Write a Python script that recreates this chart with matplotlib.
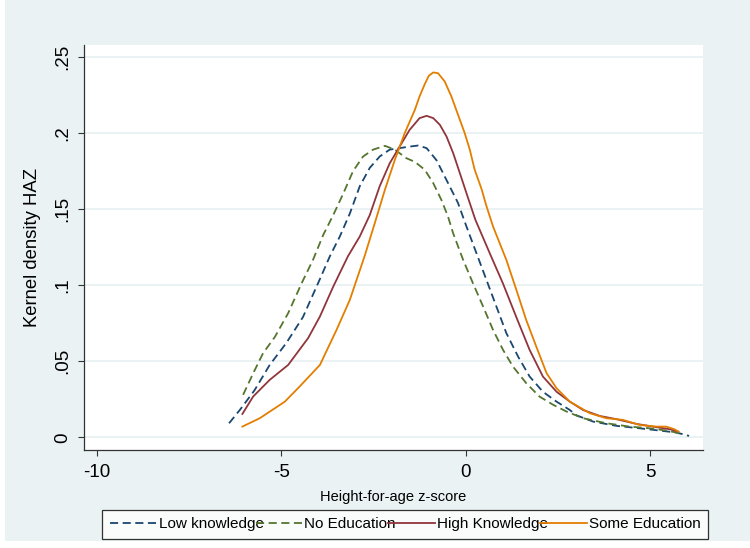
""" BIBLIOTHEQUES """
import numpy as np
import matplotlib.pyplot as plt
from matplotlib.patches import Rectangle

""" DONNEES (lues sur le graphique) """
x_low = [-6.41, -6.12, -5.72, -5.31, -4.86, -4.41, -3.95, -3.68, -3.41, -3.14, -2.87,
         -2.6, -2.33, -2.06, -1.79, -1.52, -1.29, -1.06, -0.79, -0.52, -0.21, 0.02,
         0.29, 0.56, 0.83, 1.1, 1.42, 1.73, 2.09, 2.46, 2.82, 3.0, 3.45, 4.08, 4.71,
         5.25, 5.71, 6.05]
y_low = [0.0093, 0.018, 0.031, 0.0476, 0.062, 0.079, 0.104, 0.119, 0.132, 0.147, 0.165,
         0.177, 0.1845, 0.189, 0.190, 0.191, 0.1917, 0.190, 0.182, 0.169, 0.154, 0.1385,
         0.121, 0.1035, 0.086, 0.0685, 0.053, 0.040, 0.030, 0.0235, 0.018, 0.0145, 0.0104,
         0.0076, 0.006, 0.0045, 0.0032, 0.001]

x_noedu = [-6.03, -5.76, -5.49, -5.17, -4.81, -4.45, -4.13, -3.86, -3.59, -3.32, -3.05,
           -2.78, -2.51, -2.19, -1.92, -1.61, -1.38, -1.11, -0.88, -0.66, -0.48, -0.34,
           -0.07, 0.2, 0.47, 0.74, 1.01, 1.28, 1.64, 2.0, 2.37, 2.73, 3.18, 3.81, 4.44,
           4.98, 5.43, 5.71, 5.87]
y_noedu = [0.028, 0.042, 0.0553, 0.066, 0.0816, 0.101, 0.117, 0.133, 0.146, 0.160, 0.175,
           0.1845, 0.189, 0.1915, 0.189, 0.1834, 0.181, 0.1758, 0.167, 0.156, 0.145, 0.134,
           0.1166, 0.101, 0.086, 0.0706, 0.0575, 0.0465, 0.0356, 0.0268, 0.0214, 0.017,
           0.0126, 0.0093, 0.0071, 0.006, 0.0045, 0.0032, 0.0015]

x_high = [-6.05, -5.76, -5.31, -4.81, -4.27, -3.95, -3.59, -3.19, -2.87, -2.6, -2.33,
          -2.06, -1.79, -1.52, -1.25, -1.06, -0.88, -0.7, -0.52, -0.34, -0.16, 0.02,
          0.26, 0.65, 1.01, 1.37, 1.73, 2.09, 2.46, 2.82, 3.18, 3.63, 4.08, 4.62, 5.17,
          5.53, 5.76]
y_high = [0.0154, 0.0268, 0.0378, 0.0476, 0.0652, 0.0794, 0.099, 0.119, 0.132, 0.146, 0.165,
          0.180, 0.191, 0.202, 0.2097, 0.2112, 0.2097, 0.2053, 0.1976, 0.1867, 0.1736, 0.1604,
          0.143, 0.121, 0.101, 0.079, 0.0575, 0.040, 0.030, 0.0235, 0.018, 0.0141, 0.012,
          0.0089, 0.0067, 0.0054, 0.0038]

x_some = [-6.05, -5.58, -4.9, -4.5, -3.95, -3.5, -3.14, -2.74, -2.46, -2.19, -1.92, -1.65,
          -1.38, -1.25, -1.11, -1.0, -0.88, -0.75, -0.57, -0.39, -0.21, -0.03, 0.11, 0.24,
          0.43, 0.56, 0.74, 1.1, 1.37, 1.64, 1.91, 2.19, 2.46, 2.82, 3.36, 3.81, 4.26, 4.71,
          5.17, 5.43, 5.65, 5.76]
y_some = [0.0071, 0.0126, 0.0235, 0.0334, 0.0476, 0.0706, 0.0903, 0.119, 0.141, 0.1626,
          0.1823, 0.200, 0.215, 0.224, 0.232, 0.2375, 0.2397, 0.2392, 0.2338, 0.224, 0.212,
          0.200, 0.189, 0.176, 0.163, 0.152, 0.1385, 0.1166, 0.097, 0.077, 0.0597, 0.0422,
          0.0323, 0.0235, 0.0159, 0.0126, 0.0115, 0.0082, 0.0071, 0.0071, 0.0054, 0.0038]

noms = ['Low knowledge', 'No Education', 'High Knowledge', 'Some Education']
xticks = [-10, -5, 0, 5]
yticks = [0, 0.05, 0.1, 0.15, 0.2, 0.25]
yticklabels = ['0', '.05', '.1', '.15', '.2', '.25']

""" STYLE """
plt.rcParams['font.family'] = ['Liberation Sans', 'DejaVu Sans']
fond = '#EAF2F3'
navy, vert, bordeaux, orange = '#1A476F', '#55752F', '#90353B', '#E37E00'

""" FIGURE """
fig = plt.figure(figsize=(7.5, 5.48), dpi=100, facecolor='white')
fig.patches.append(Rectangle((0.006, 0.012), 0.994, 0.988, transform=fig.transFigure,
                             facecolor=fond, edgecolor='none', zorder=-10))
ax = fig.add_axes([0.112, 0.179, 0.825, 0.738])
ax.set_facecolor('white')

lw = 1.3
ax.plot(x_low, y_low, color=navy, lw=lw, dashes=(4.5, 2.5), label=noms[0])
ax.plot(x_noedu, y_noedu, color=vert, lw=lw, dashes=(4.5, 2.5), label=noms[1])
ax.plot(x_high, y_high, color=bordeaux, lw=lw, label=noms[2])
ax.plot(x_some, y_some, color=orange, lw=lw, label=noms[3])

# Axes
ax.set_xlim(-10.34, 6.42)
ax.set_ylim(-0.0082, 0.2574)
ax.set_xticks(xticks)
ax.set_xticklabels([str(t) for t in xticks])
ax.set_yticks(yticks)
ax.set_yticklabels(yticklabels, rotation=90, va='center')
ax.tick_params(axis='both', labelsize=13.5, length=4.5, width=0.8, color='#333333')
ax.tick_params(axis='x', pad=6)
ax.tick_params(axis='y', pad=5)

for s in ['top', 'right']:
    ax.spines[s].set_visible(False)
for s in ['left', 'bottom']:
    ax.spines[s].set_color('#333333')
    ax.spines[s].set_linewidth(0.9)

ax.yaxis.grid(True, color=fond, lw=1.4)
ax.set_axisbelow(True)

ax.set_ylabel('Kernel density HAZ', fontsize=13.3, labelpad=9)
ax.set_xlabel('Height-for-age z-score', fontsize=10.5, labelpad=6)

# Legende
leg = fig.legend(loc='lower left', bbox_to_anchor=(0.136, 0.0164, 0.808, 0.062),
                 mode='expand', ncol=4, fontsize=11, frameon=True, fancybox=False,
                 handlelength=3.1, handletextpad=0.1, columnspacing=0.3,
                 borderaxespad=0, borderpad=0.5)
leg.get_frame().set_edgecolor('black')
leg.get_frame().set_linewidth(0.9)

fig.savefig('out.png', dpi=100, facecolor=fig.get_facecolor())
